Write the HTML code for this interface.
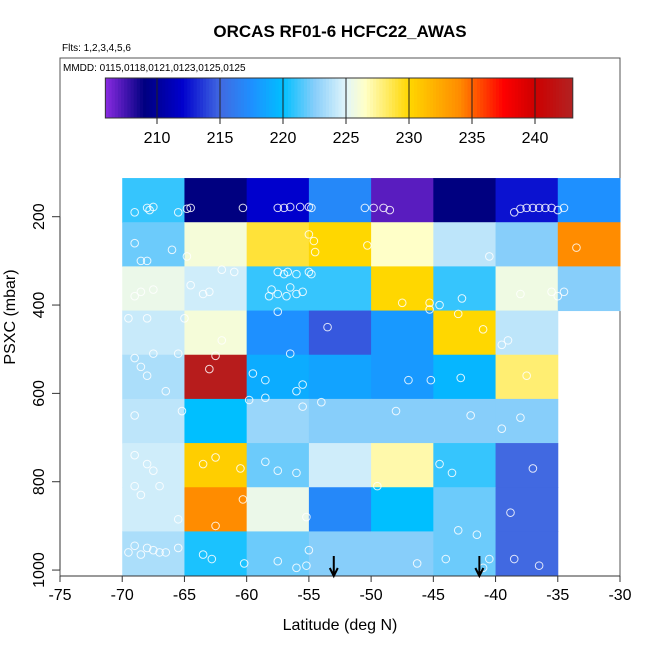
<!DOCTYPE html>
<html><head><meta charset="utf-8"><style>
body{margin:0;background:#fff;font-family:"Liberation Sans",sans-serif}
svg text{font-family:"Liberation Sans",sans-serif}
</style></head><body>
<svg id="c" width="650" height="650" xmlns="http://www.w3.org/2000/svg">
<text x="340" y="37" text-anchor="middle" font-size="17" font-weight="bold">ORCAS RF01-6 HCFC22_AWAS</text>
<text x="62" y="51" font-size="10">Flts: 1,2,3,4,5,6</text>
<rect x="60" y="58" width="560" height="518" fill="none" stroke="#555"/>
<text x="63" y="71" font-size="10">MMDD: 0115,0118,0121,0123,0125,0125</text>
<g id="cb"></g>
<g id="cells"></g>
<g id="pts"></g>
<g id="axes"></g>
<text x="340" y="630" text-anchor="middle" font-size="16">Latitude (deg N)</text>
<text transform="translate(15,317) rotate(-90)" text-anchor="middle" font-size="16">PSXC (mbar)</text>
</svg>
<script>
const lats=[-70,-65,-60,-55,-50,-45,-40,-35];
const presRows=[150,250,350,450,550,650,750,850,950];
const values=[
[221,209,212,217,207,209,212.5,217.5],
[222,226,229,230,226.5,224,222.5,234],
[225.5,224.5,221,221,230,221,225.7,222.5],
[224.3,226,217.5,214.5,218,230,224,null],
[223.5,242.5,219,218.5,218,219.5,228,null],
[224,220,223,222.5,222.5,222.5,222.5,null],
[224.5,230.5,222,224.5,227,221,215,null],
[224.5,234,225.5,217,220,222,215,null],
[223.5,220.5,222,222.5,222.5,222,215,null]];
const cbTicks=[210,215,220,225,230,235,240];
const xTicks=[-75,-70,-65,-60,-55,-50,-45,-40,-35,-30];
const yTicks=[200,400,600,800,1000];
const arrowLats=[-53,-41.3];
const ptLat=[-69,-68,-67.8,-67.5,-65.5,-64.8,-64.5,-60.3,-57.5,-57,-56.5,-55.7,-55,-54.8,-50.5,-49.8,-49,-48.5,-38.5,-38,-37.5,-37,-36.5,-36,-35.5,-35,-34.5,
-69,-68.5,-68,-66,-69,-64.8,-55,-54.5,-54.6,-50.3,-40.5,-33.5,
-68.5,-67.5,-64.5,-63.5,-63,-62,-61,-57.5,-57,-56.7,-56,-55,-54.8,-58.2,-58,-57.5,-56.8,-56.5,-56,-55.5,-47.5,-45.3,-44.5,-43,-42.7,-38,-35.5,-35,-34.5,
-69.5,-68,-65,-62,-57.5,-53.5,-45.3,-41,-39.5,-39,
-68.5,-68,-69,-67.5,-66.5,-65.5,-63,-62.5,-59.5,-56.5,-58.5,-56,-55.5,-47,-45.2,-42.8,-37.5,
-69,-65.2,-59.8,-58.5,-54,-48,-55.5,-42,-39.5,-38,
-68,-69,-67.5,-62.5,-63.5,-60.5,-58.5,-57.5,-56,-49.5,-43.5,-44.5,-37,
-69,-68.5,-67,-65.5,-62.5,-60.3,-55.2,-41.5,-43,-38.8,
-69.5,-69,-68.5,-68,-67.5,-67,-66.5,-65.5,-63.5,-62.8,-60.2,-57.5,-56,-55.2,-55,-46.3,-44,-41,-40.5,-38.5,-36.5];
const ptP=[190,180,185,178,190,182,180,180,180,180,178,178,178,180,180,180,180,185,190,182,180,180,180,180,180,185,180,
260,300,300,275,380,290,240,280,255,265,290,270,
370,365,355,375,370,320,325,325,330,325,330,325,330,380,365,375,380,360,375,370,395,410,400,420,385,375,370,380,370,
430,430,430,480,415,450,395,455,490,480,
540,560,520,510,595,510,545,515,555,510,570,595,580,570,570,565,560,
650,640,615,610,620,640,630,650,680,655,
760,740,775,745,760,770,755,775,780,810,780,760,770,
810,830,810,885,900,840,880,920,910,870,
960,945,965,950,955,960,960,950,965,975,985,980,995,990,955,985,975,995,975,975,990];
const NS='http://www.w3.org/2000/svg';
function X(l){return 60+(l+75)*560/45;}
function Y(p){return 216.7+(p-200)*0.4417;}
function CBX(v){return 157+(v-210)*12.6;}
const stops=[[205.9,[138,43,226]],[209,[0,0,128]],[212,[0,0,205]],[215,[65,105,225]],[217.5,[30,144,255]],[220,[0,191,255]],[222.5,[135,206,250]],[225,[225,245,250]],[226.5,[255,255,200]],[230,[255,215,0]],[234,[255,140,0]],[235.5,[255,80,0]],[237.5,[255,0,0]],[240,[205,0,0]],[243,[178,34,34]]];
function col(v){if(v<=stops[0][0])return 'rgb('+stops[0][1]+')';for(let i=1;i<stops.length;i++){if(v<=stops[i][0]){const a=stops[i-1],b=stops[i],t=(v-a[0])/(b[0]-a[0]);return 'rgb('+a[1].map((c,k)=>Math.round(c+(b[1][k]-c)*t)).join(',')+')';}}return 'rgb('+stops[stops.length-1][1]+')';}
function mk(tag,attrs,parent){const e=document.createElementNS(NS,tag);for(const k in attrs)e.setAttribute(k,attrs[k]);parent.appendChild(e);return e;}
const cb=document.getElementById('cb');
for(let v=205.9;v<243;v+=0.25){const r=mk('rect',{x:CBX(v),y:78,width:Math.min(12.6*0.25+0.5,CBX(243)-CBX(v)),height:40,fill:col(v+0.125)},cb);

}
const cbf=mk('rect',{x:CBX(205.9),y:78,width:CBX(243)-CBX(205.9),height:40,fill:'none',stroke:'#333'},cb);


cbTicks.forEach(t=>{const l=mk('line',{x1:CBX(t),x2:CBX(t),y1:78,y2:124,stroke:'#222'},cb);


const tx=mk('text',{x:CBX(t),y:143,'text-anchor':'middle','font-size':16},cb);tx.textContent=t;

});
const cg=document.getElementById('cells');
values.forEach((row,i)=>row.forEach((v,j)=>{if(v==null)return;const x0=X(lats[j]),x1=X(lats[j]+5),y0=Y(presRows[i]-37.5),y1=Y(presRows[i]+62.5);
const r=mk('rect',{x:x0,y:y0,width:x1-x0+0.5,height:y1-y0+0.5,fill:col(v)},cg);

}));
const pg=document.getElementById('pts');
ptLat.forEach((l,i)=>{const c=mk('circle',{cx:X(l),cy:Y(ptP[i]),r:3.8,fill:'none',stroke:'#fff','stroke-width':1,opacity:0.85},pg);

});
const ax=document.getElementById('axes');
mk('line',{x1:60,x2:620,y1:576,y2:576,stroke:'#333'},ax);
mk('line',{x1:60,x2:60,y1:Y(200),y2:Y(1000),stroke:'#333'},ax);
xTicks.forEach(t=>{const l=mk('line',{x1:X(t),x2:X(t),y1:576,y2:582,stroke:'#333'},ax);


const tx=mk('text',{x:X(t),y:600,'text-anchor':'middle','font-size':16},ax);tx.textContent=t;

});
yTicks.forEach(t=>{const l=mk('line',{x1:52,x2:60,y1:Y(t),y2:Y(t),stroke:'#333'},ax);


const tx=mk('text',{x:44,y:Y(t),'text-anchor':'middle','font-size':16,transform:'rotate(-90 44 '+Y(t)+')'},ax);tx.textContent=t;

});
arrowLats.forEach(l=>{const g=mk('path',{d:'M'+X(l)+' 556 V576 M'+(X(l)-4)+' 568 L'+X(l)+' 576 L'+(X(l)+4)+' 568',stroke:'#000','stroke-width':2,fill:'none'},ax);

});
</script>
</body></html>
